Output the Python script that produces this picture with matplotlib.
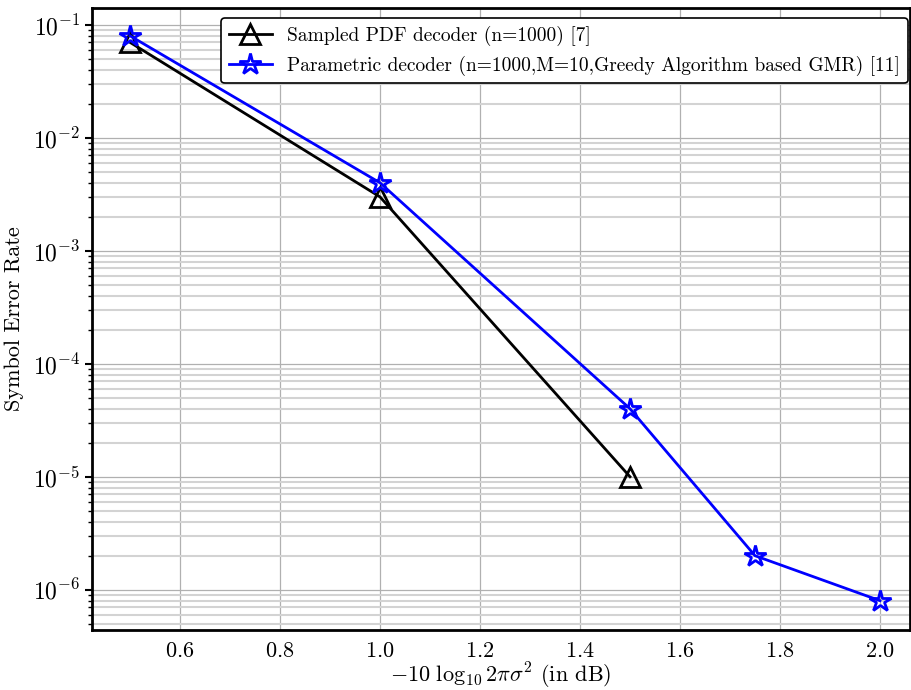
import matplotlib
matplotlib.use("Agg")
import matplotlib.pyplot as plt
from matplotlib.ticker import LogLocator, NullFormatter

plt.rcParams['font.family'] = ['cmr10', 'DejaVu Serif']
plt.rcParams['mathtext.fontset'] = 'cm'
plt.rcParams['axes.formatter.use_mathtext'] = True
plt.rcParams['axes.unicode_minus'] = True

# SNR points (dB) and symbol error rates
snr_sampled = [0.5, 1.0, 1.5]
ser_sampled = [0.07, 0.003, 1e-5]
snr_param = [0.5, 1.0, 1.5, 1.75, 2.0]
ser_param = [0.08, 0.004, 4e-5, 2e-6, 8e-7]

label_sampled = "Sampled PDF decoder (n=1000) [7]"
label_param = "Parametric decoder (n=1000,M=10,Greedy Algorithm based GMR) [11]"

fig = plt.figure(figsize=(9.11, 6.9), dpi=100)
ax = fig.add_axes([92 / 911, 60 / 690, (910 - 92) / 911, (630 - 8) / 690])

ax.semilogy(snr_sampled, ser_sampled, color='black', lw=2, marker='^',
            markersize=15, mfc='none', mew=2, label=label_sampled)
ax.semilogy(snr_param, ser_param, color='blue', lw=2, marker='*',
            markersize=16, mfc='none', mew=2, label=label_param)

ax.set_xlim(0.424, 2.06)
ax.set_ylim(4.4e-7, 0.141)

ax.yaxis.set_major_locator(LogLocator(base=10, numticks=20))
ax.yaxis.set_minor_locator(LogLocator(base=10, subs=range(2, 10), numticks=20))
ax.yaxis.set_minor_formatter(NullFormatter())

ax.grid(True, which='major', color='#b0b0b0', lw=0.9)
ax.grid(True, which='minor', axis='y', color='#d3d3d3', lw=1.5)
ax.set_axisbelow(True)

for sp in ax.spines.values():
    sp.set_linewidth(2)

ax.tick_params(axis='x', length=0, labelsize=16, pad=8)
ax.tick_params(axis='y', which='major', length=5, width=1.5, labelsize=17)
ax.tick_params(axis='y', which='minor', length=3, width=1)

ax.set_xlabel(r"$-10\ \log_{10} 2\pi\sigma^2$ (in dB)", fontsize=16, labelpad=0)
ax.set_ylabel("Symbol Error Rate", fontsize=16, labelpad=6)

leg = ax.legend(loc='upper right', bbox_to_anchor=(0.9976, 0.984), fontsize=14,
                framealpha=1, edgecolor='black', fancybox=True,
                handlelength=2.2, borderaxespad=0)
leg.get_frame().set_linewidth(1.2)

fig.savefig("out.png", dpi=100)
